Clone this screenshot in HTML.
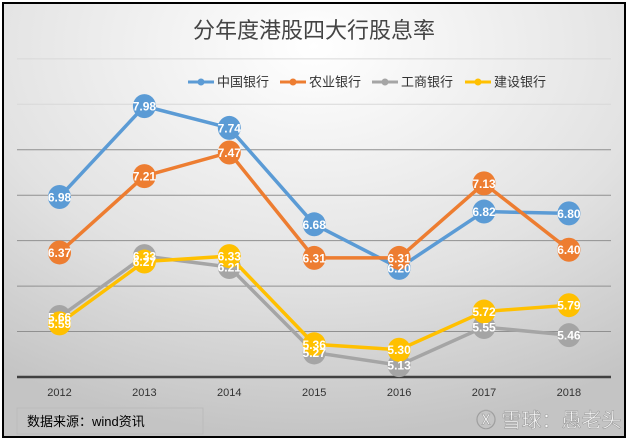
<!DOCTYPE html>
<html><head><meta charset="utf-8"><style>
body{margin:0;width:628px;height:441px;overflow:hidden;background:#fff;font-family:"Liberation Sans","Noto Sans CJK SC",sans-serif}
svg text{font-family:"Liberation Sans","Noto Sans CJK SC",sans-serif}
</style></head><body>
<svg id="c" width="628" height="441">
<defs>
<radialGradient id="bg" cx="0.5" cy="0.1" r="0.9">
<stop offset="0" stop-color="#ffffff"/><stop offset="0.6" stop-color="#e2e2e2"/><stop offset="1" stop-color="#c4c4c4"/>
</radialGradient>
</defs>
<rect x="3" y="3" width="622" height="434" fill="url(#bg)" stroke="#000" stroke-width="2"/>
<text x="314" y="38" text-anchor="middle" font-size="22" fill="#444" font-family="Noto Serif CJK SC, serif">分年度港股四大行股息率</text>
<g id="grid"></g>
<g id="legend"></g>
<g id="series"></g>
<rect x="17" y="408" width="186" height="26" fill="none" stroke="#bbb"/>
<text x="27" y="426" font-size="13" fill="#000">数据来源：wind资讯</text>
<text x="476" y="427" font-size="20" fill="#fff" stroke="#999" stroke-width="0.6" opacity="0.9">Ⓧ 雪球：愚老头</text>
</svg>
<script>
const categories=["2012","2013","2014","2015","2016","2017","2018"];
const seriesNames=["中国银行","农业银行","工商银行","建设银行"];
const boc=[6.98,7.98,7.74,6.68,6.20,6.82,6.80];
const abc=[6.37,7.21,7.47,6.31,6.31,7.13,6.40];
const icbc=[5.66,6.33,6.21,5.27,5.13,5.55,5.46];
const ccb=[5.59,6.27,6.33,5.36,5.30,5.72,5.79];
const yTicks=[5,5.5,6,6.5,7,7.5,8,8.5];
const colors=["#5b9bd5","#ed7d31","#a5a5a5","#ffc000"];
const NS="http://www.w3.org/2000/svg";
const x=i=>59.5+i*84.9;
const y=v=>377-(v-5)*90.9;
function mk(t,a,p){const e=document.createElementNS(NS,t);for(const k in a)e.setAttribute(k,a[k]);p.appendChild(e);return e;}
const grid=document.getElementById('grid');
yTicks.forEach((t,i)=>{
 const l=mk('line',{x1:17,x2:611,y1:y(t),y2:y(t),stroke:i==0?'#404040':(i>=6?'#d8d8d8':'#909090'),'stroke-width':i==0?2.5:1},grid);
 
 
});
categories.forEach((c,i)=>{
 const t=mk('text',{x:x(i),y:396,'text-anchor':'middle','font-size':11,fill:'#333'},grid);
 t.textContent=c;
 
 
});
const lg=document.getElementById('legend');
const lx=[188,280,372,465];
seriesNames.forEach((n,i)=>{
 mk('line',{x1:lx[i],x2:lx[i]+26,y1:82,y2:82,stroke:colors[i],'stroke-width':3},lg);
 mk('circle',{cx:lx[i]+13,cy:82,r:3.5,fill:colors[i]},lg);
 const t=mk('text',{x:lx[i]+29,y:86.5,'font-size':13,fill:'#333'},lg);
 t.textContent=n;
 
 
});
const all=[boc,abc,icbc,ccb];
const sg=document.getElementById('series');
[2,3,0,1].forEach(si=>{
 const d=all[si];
 const g=mk('g',{},sg);
 
 
 const p=mk('polyline',{points:d.map((v,i)=>x(i)+','+y(v)).join(' '),fill:'none',stroke:colors[si],'stroke-width':3.5},g);
 
 
 d.forEach((v,i)=>{
  const e=mk('ellipse',{cx:x(i),cy:y(v),rx:11.5,ry:12,fill:colors[si]},g);
  
  
 });
});
[2,3,0,1].forEach(si=>{
 const d=all[si];
 d.forEach((v,i)=>{
  const t=mk('text',{x:x(i),y:y(v)+4.5,'text-anchor':'middle','font-size':12,'font-weight':'bold',fill:'#fff'},sg);
  t.textContent=v.toFixed(2);
  
  
 });
});
</script>
</body></html>
